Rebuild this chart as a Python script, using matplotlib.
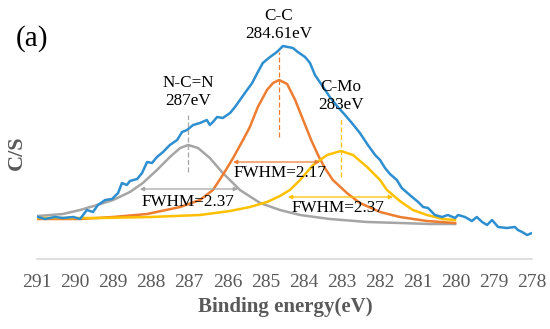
import matplotlib.pyplot as plt
import numpy as np

plt.rcParams['font.family'] = ['Liberation Serif', 'DejaVu Serif']

# measured spectrum (binding energy in eV, counts in arbitrary units)
energy = [290.97, 290.79, 290.53, 290.32, 290.05, 289.87, 289.69, 289.53, 289.40, 289.21,
          289.03, 288.87, 288.77, 288.64, 288.56, 288.37, 288.24, 288.11, 287.98, 287.85,
          287.69, 287.51, 287.32, 287.19, 287.06, 286.90, 286.72, 286.54, 286.46, 286.38,
          286.27, 286.12, 285.93, 285.80, 285.67, 285.54, 285.35, 285.20, 285.07, 284.88,
          284.70, 284.54, 284.41, 284.28, 284.15, 283.96, 283.83, 283.70, 283.52, 283.31,
          283.10, 282.91, 282.73, 282.52, 282.31, 282.12, 281.99, 281.86, 281.73, 281.55,
          281.42, 281.21, 280.99, 280.86, 280.73, 280.55, 280.36, 280.21, 280.02, 279.94,
          279.76, 279.58, 279.45, 279.31, 279.18, 279.05, 278.89, 278.66, 278.45, 278.37,
          278.26, 278.13, 278.00]
counts = [42, 40, 42, 41, 42, 40, 49, 47, 54, 59,
          60, 66, 76, 74, 78, 80, 86, 97, 96, 102,
          107, 114, 119, 127, 129, 134, 136, 139, 134, 137,
          142, 141, 146, 152, 159, 166, 176, 187, 196, 202,
          207, 213, 212, 211, 207, 202, 196, 184, 174, 162,
          152, 144, 136, 126, 114, 104, 99, 91, 85, 79,
          71, 64, 57, 52, 51, 44, 42, 44, 41, 44,
          42, 38, 42, 37, 34, 39, 32, 31, 32, 29,
          27, 24, 26]

# fitted components
cc_e = [290.97, 289.87, 289.00, 288.11, 287.24, 286.72, 286.38, 286.12, 285.85, 285.59,
        285.41, 285.20, 284.96, 284.80, 284.64, 284.43, 284.22, 284.01, 283.80, 283.62,
        283.44, 283.23, 282.86, 282.52, 281.99, 281.47, 280.76, 280.02]
cc_i = [40, 40, 42, 45, 52, 59, 69, 84, 101, 119,
        132, 152, 169, 176, 179, 175, 159, 139, 119, 104,
        91, 79, 66, 56, 47, 42, 38, 36]

ncn_e = [290.97, 290.32, 289.87, 289.42, 289.00, 288.56, 288.22, 287.85, 287.51, 287.24,
         287.03, 286.77, 286.46, 286.12, 285.67, 285.14, 284.62, 284.09, 283.31, 282.33,
         281.47, 280.68, 280.02]
ncn_i = [43, 45, 49, 54, 59, 67, 76, 89, 102, 111,
         114, 111, 101, 86, 69, 56, 49, 44, 40, 37,
         36, 35, 35]

cmo_e = [290.97, 289.35, 288.03, 286.72, 285.93, 285.41, 284.96, 284.62, 284.36, 284.09,
         283.75, 283.38, 283.02, 282.70, 282.33, 281.99, 281.81, 281.47, 281.13, 280.76,
         280.34, 280.02]
cmo_i = [41, 41, 42, 44, 48, 52, 57, 63, 69, 79,
         94, 104, 108, 104, 92, 79, 69, 58, 49, 44,
         40, 39]

ticks = np.arange(291, 277, -1)

blue = '#2e8fd0'
orange = '#ed7d31'
gray = '#a5a5a5'
yellow = '#ffc000'
txt_gray = '#595959'

fig = plt.figure(figsize=(5.5, 3.29), dpi=100)
ax = fig.add_axes([37 / 550, 70 / 329, 495 / 550, 249 / 329])

ax.plot(ncn_e, ncn_i, color=gray, lw=1.8)
ax.plot(cc_e, cc_i, color=orange, lw=1.8)
ax.plot(cmo_e, cmo_i, color=yellow, lw=1.8)
ax.plot(energy, counts, color=blue, lw=1.8)

# peak position markers
ax.plot([287.03, 287.03], [87, 144], color=gray, lw=0.9, ls=(0, (4, 2)))
ax.plot([284.645, 284.645], [122, 207], color=orange, lw=0.9, ls=(0, (4, 2)))
ax.plot([283.02, 283.02], [82, 141], color=yellow, lw=0.9, ls=(0, (4, 2)))

# FWHM arrows
arrows = [(288.30, 285.72, 70, gray), (285.85, 283.57, 97, orange), (284.41, 281.65, 62, yellow)]
for x0, x1, y, c in arrows:
    ax.annotate('', xy=(x1, y), xytext=(x0, y),
                arrowprops=dict(arrowstyle='<|-|>', color=c, lw=0.9,
                                mutation_scale=6, shrinkA=0, shrinkB=0))

fs = 12.3
ax.text(287.03, 57, 'FWHM=2.37', ha='center', va='center', fontsize=fs)
ax.text(284.62, 86, 'FWHM=2.17', ha='center', va='center', fontsize=fs)
ax.text(283.10, 51, 'FWHM=2.37', ha='center', va='center', fontsize=fs)

ax.text(287.03, 167, 'N-C=N\n287eV', ha='center', va='center', fontsize=fs, linespacing=1.15)
ax.text(284.645, 234, 'C-C\n284.61eV', ha='center', va='center', fontsize=fs, linespacing=1.15)
ax.text(283.02, 163, 'C-Mo\n283eV', ha='center', va='center', fontsize=fs, linespacing=1.15)

ax.set_xlim(291, 278)
ax.set_ylim(0, 249)
ax.set_xticks(ticks)
ax.set_xticklabels([str(t) for t in ticks], color=txt_gray, fontsize=14)
ax.tick_params(axis='x', length=0, pad=11)
ax.set_yticks([])
for s in ['top', 'right', 'left']:
    ax.spines[s].set_visible(False)
ax.spines['bottom'].set_color('#d9d9d9')
ax.spines['bottom'].set_linewidth(1.2)

fig.text(285 / 550, 1 - 307 / 329, 'Binding energy(eV)', ha='center', va='center',
         fontsize=15, fontweight='bold', color=txt_gray)
fig.text(17 / 550, 1 - 153 / 329, 'C/S', ha='center', va='center', rotation=90,
         fontsize=16, fontweight='bold', color=txt_gray)
fig.text(32 / 550, 1 - 39 / 329, '(a)', ha='center', va='center', fontsize=21)

plt.savefig('out.png', dpi=100)
